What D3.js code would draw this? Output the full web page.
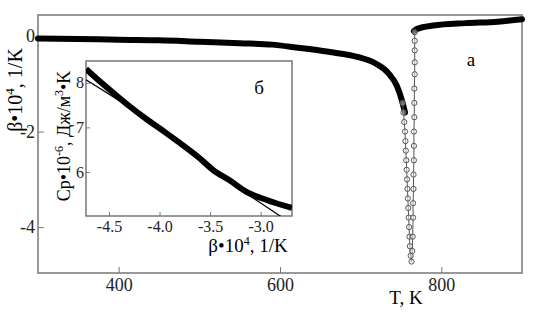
<!DOCTYPE html>
<html>
<head>
<meta charset="utf-8">
<script src="https://cdn.jsdelivr.net/npm/d3@7"></script>
</head>
<body style="margin:0;background:#fff">
<svg id="chart" width="535" height="312" style="font-family:'Liberation Serif','Times New Roman',serif"></svg>
<script>
// main curve, thick part before the dip (T, K ; beta*10^4)
const mainT    = [300, 350, 400, 450, 500, 550, 590, 620, 660, 697, 718, 734, 745, 751, 755]
const mainBeta = [-0.05, -0.06, -0.08, -0.09, -0.12, -0.15, -0.18, -0.24, -0.33, -0.44, -0.57, -0.77, -1.05, -1.34, -1.6]
// curve after the transition
const upperT    = [766, 770, 790, 830, 870, 900]
const upperBeta = [0.1, 0.15, 0.22, 0.27, 0.30, 0.35]
// circle markers through the dip
const dipT    = [752, 753, 754, 755, 755.5, 756, 756.5, 757, 757.5, 758, 758.5, 759, 759.5, 760, 760.5, 761, 762, 763,
                 764, 764.5, 765, 765, 765.5, 765.5, 766, 766, 766, 766.5, 766.5, 766.5, 767, 767, 767, 767, 767]
const dipBeta = [-1.4, -1.6, -1.8, -2.0, -2.2, -2.4, -2.6, -2.8, -3.0, -3.2, -3.4, -3.6, -3.8, -4.0, -4.2, -4.4, -4.6, -4.72,
                 -4.5, -4.2, -3.8, -3.5, -3.2, -2.9, -2.6, -2.3, -2.0, -1.7, -1.4, -1.1, -0.8, -0.55, -0.3, -0.1, 0.08]
// inset: Cp vs beta
const insetBeta  = [-4.727, -4.6, -4.46, -4.3, -4.12, -3.95, -3.8, -3.6, -3.47, -3.3, -3.14, -2.94, -2.69]
const insetCp    = [8.31, 8.05, 7.78, 7.48, 7.17, 6.9, 6.65, 6.3, 6.04, 5.8, 5.55, 5.37, 5.19]
const fitBeta    = [-4.727, -4.4, -4.0, -3.5, -3.0, -2.8]
const fitCp      = [8.07, 7.6, 6.97, 6.08, 5.3, 5.0]

const mainXTicks = [400, 600, 800]
const mainXLabels = ["400", "600", "800"]
const mainYTicks = [0, -2, -4]
const mainYLabels = ["0", "-2", "-4"]
const insetXTicks = [-4.5, -4.0, -3.5, -3.0]
const insetXLabels = ["-4.5", "-4.0", "-3.5", "-3.0"]
const insetYTicks = [6, 7, 8]
const insetYLabels = ["6", "7", "8"]

const svg = d3.select("#chart")
const frameColor = "#777"
const serif = "'Liberation Serif', 'Times New Roman', serif"

// main plot
const x = d3.scaleLinear().domain([300, 900]).range([38, 522])
const y = d3.scaleLinear().domain([-4.96, 0.44]).range([273, 15])

svg.append("rect")
    .attr("x", 38).attr("y", 15).attr("width", 484).attr("height", 258)
    .attr("fill", "none").attr("stroke", frameColor).attr("stroke-width", 1.5)

const xAxis = svg.append("g")
    .attr("transform", "translate(0,273)")
    .call(d3.axisBottom(x).tickValues(mainXTicks).tickSize(-6).tickPadding(5)
        .tickFormat((d, i) => mainXLabels[i]))
const yAxis = svg.append("g")
    .attr("transform", "translate(38,0)")
    .call(d3.axisLeft(y).tickValues(mainYTicks).tickSize(-6).tickPadding(3)
        .tickFormat((d, i) => mainYLabels[i]))

;[xAxis, yAxis].forEach(g => {
    g.attr("font-family", null).style("font-family", serif)
    g.select(".domain").remove()
    g.selectAll("line").attr("stroke", frameColor)
    g.selectAll("text").attr("font-size", 18).attr("fill", "#222").style("font-family", serif)
})

const line = d3.line().curve(d3.curveMonotoneX)
const lineFree = d3.line().curve(d3.curveLinear)

svg.append("path")
    .attr("d", line(mainT.map((t, i) => [x(t), y(mainBeta[i])])))
    .attr("fill", "none").attr("stroke", "#000").attr("stroke-width", 6)
    .attr("stroke-linecap", "round").attr("stroke-linejoin", "round")

svg.append("path")
    .attr("d", line(upperT.map((t, i) => [x(t), y(upperBeta[i])])))
    .attr("fill", "none").attr("stroke", "#000").attr("stroke-width", 6)
    .attr("stroke-linecap", "round").attr("stroke-linejoin", "round")

svg.append("path")
    .attr("d", lineFree(dipT.map((t, i) => [x(t), y(dipBeta[i])])))
    .attr("fill", "none").attr("stroke", "#555").attr("stroke-width", 1)

svg.selectAll("circle.dip")
    .data(dipT.map((t, i) => ({ t, b: dipBeta[i] })))
    .enter()
    .append("circle")
    .attr("class", "dip")
    .attr("cx", d => x(d.t))
    .attr("cy", d => y(d.b))
    .attr("r", 2.6)
    .attr("fill", "#fff")
    .attr("fill-opacity", 0.4)
    .attr("stroke", "#555")
    .attr("stroke-width", 1)

// axis titles
svg.append("text")
    .attr("transform", "translate(22,90) rotate(-90)")
    .attr("text-anchor", "middle").attr("font-size", 20).style("font-family", serif)
    .call(t => {
        t.append("tspan").text("β•10")
        t.append("tspan").attr("font-size", 13).attr("dy", -8).text("4")
        t.append("tspan").attr("dy", 8).text(", 1/K")
    })

svg.append("text")
    .attr("x", 406).attr("y", 304)
    .attr("text-anchor", "middle").attr("font-size", 19).style("font-family", serif)
    .text("T, K")

svg.append("text")
    .attr("x", 471).attr("y", 66)
    .attr("text-anchor", "middle").attr("font-size", 19).style("font-family", serif)
    .text("а")

// inset
const ix = d3.scaleLinear().domain([-4.727, -2.69]).range([86, 292])
const iy = d3.scaleLinear().domain([5.01, 8.49]).range([216, 61])

svg.append("rect")
    .attr("x", 86).attr("y", 61).attr("width", 206).attr("height", 155)
    .attr("fill", "#fff").attr("stroke", frameColor).attr("stroke-width", 1.5)

const ixAxis = svg.append("g")
    .attr("transform", "translate(0,216)")
    .call(d3.axisBottom(ix).tickValues(insetXTicks).tickSize(-4).tickPadding(5)
        .tickFormat((d, i) => insetXLabels[i]))
const iyAxis = svg.append("g")
    .attr("transform", "translate(86,0)")
    .call(d3.axisLeft(iy).tickValues(insetYTicks).tickSize(-4).tickPadding(2)
        .tickFormat((d, i) => insetYLabels[i]))

;[ixAxis, iyAxis].forEach(g => {
    g.attr("font-family", null).style("font-family", serif)
    g.select(".domain").remove()
    g.selectAll("line").attr("stroke", frameColor)
    g.selectAll("text").attr("font-size", 16).attr("fill", "#222").style("font-family", serif)
})

const clip = svg.append("clipPath").attr("id", "insetClip")
clip.append("rect").attr("x", 86).attr("y", 61).attr("width", 206).attr("height", 155)

svg.append("path")
    .attr("clip-path", "url(#insetClip)")
    .attr("d", line(insetBeta.map((b, i) => [ix(b), iy(insetCp[i])])))
    .attr("fill", "none").attr("stroke", "#000").attr("stroke-width", 6)

svg.append("path")
    .attr("clip-path", "url(#insetClip)")
    .attr("d", line(fitBeta.map((b, i) => [ix(b), iy(fitCp[i])])))
    .attr("fill", "none").attr("stroke", "#000").attr("stroke-width", 1.3)

svg.append("text")
    .attr("x", 259).attr("y", 94)
    .attr("text-anchor", "middle").attr("font-size", 19).style("font-family", serif)
    .text("б")

svg.append("text")
    .attr("x", 248).attr("y", 252)
    .attr("text-anchor", "middle").attr("font-size", 19).style("font-family", serif)
    .call(t => {
        t.append("tspan").text("β•10")
        t.append("tspan").attr("font-size", 12).attr("dy", -7).text("4")
        t.append("tspan").attr("dy", 7).text(", 1/K")
    })

svg.append("text")
    .attr("transform", "translate(70,136) rotate(-90)")
    .attr("text-anchor", "middle").attr("font-size", 18).style("font-family", serif)
    .call(t => {
        t.append("tspan").text("Cp•10")
        t.append("tspan").attr("font-size", 12).attr("dy", -7).text("-6")
        t.append("tspan").attr("dy", 7).text(", Дж/м")
        t.append("tspan").attr("font-size", 12).attr("dy", -7).text("3")
        t.append("tspan").attr("dy", 7).text("•K")
    })
</script>
</body>
</html>
